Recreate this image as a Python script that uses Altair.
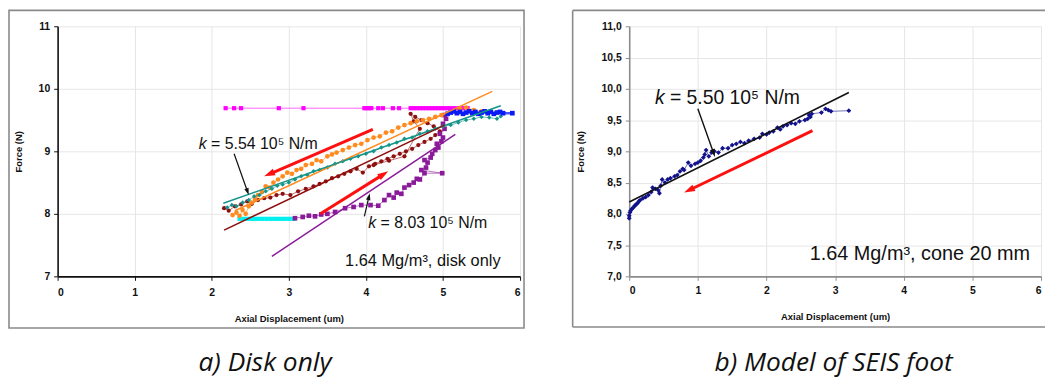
import math
import altair as alt
import pandas as pd

# ---------------- panel a: disk only ----------------
mag_x = [2.18, 2.29, 2.38, 2.87, 3.19, 3.98, 4.01, 4.04, 4.07, 4.16, 4.22, 4.35, 4.43, 4.58, 4.62, 4.66,
         4.70, 4.74, 4.78, 4.82, 4.86, 4.90, 4.94, 4.98, 5.02, 5.06, 5.10, 5.15, 5.20, 5.26, 5.32]
mag_y = [9.69, 9.69, 9.69, 9.69, 9.69, 9.69, 9.69, 9.69, 9.69, 9.69, 9.69, 9.69, 9.69, 9.69, 9.69, 9.69,
         9.69, 9.69, 9.69, 9.69, 9.69, 9.69, 9.69, 9.69, 9.69, 9.69, 9.69, 9.69, 9.69, 9.69, 9.69]

cyan_x = [2.36, 2.41, 2.46, 2.51, 2.56, 2.61, 2.66, 2.71, 2.76, 2.81, 2.86, 2.91, 2.96, 3.01, 3.06]
cyan_y = [7.92, 7.92, 7.92, 7.92, 7.92, 7.92, 7.92, 7.92, 7.92, 7.92, 7.92, 7.92, 7.92, 7.92, 7.92]

blue_x = [5.06, 5.10, 5.14, 5.18, 5.22, 5.26, 5.30, 5.34, 5.38, 5.42, 5.46, 5.50, 5.54, 5.58, 5.62,
          5.66, 5.70, 5.74, 5.78, 5.90]
blue_y = [9.60, 9.62, 9.64, 9.61, 9.63, 9.60, 9.62, 9.64, 9.61, 9.63, 9.60, 9.62, 9.64, 9.61, 9.63,
          9.60, 9.62, 9.63, 9.61, 9.61]

orange_x = [2.27, 2.32, 2.36, 2.40, 2.44, 2.48, 2.52, 2.56, 2.60, 2.65, 2.70, 2.75, 2.80, 2.86, 2.92,
            2.98, 3.04, 3.10, 3.16, 3.22, 3.30, 3.36, 3.42, 3.50, 3.56, 3.62, 3.70, 3.78, 3.86, 3.94,
            4.02, 4.10, 4.18, 4.26, 4.34, 4.42, 4.50, 4.58, 4.66, 4.74, 4.82, 4.90, 4.98, 5.06, 5.14,
            5.22, 5.30, 5.40, 5.50]
orange_y = [7.98, 8.02, 7.97, 8.06, 8.00, 8.12, 8.18, 8.24, 8.30, 8.35, 8.44, 8.42, 8.50, 8.55, 8.60,
            8.66, 8.64, 8.70, 8.72, 8.78, 8.80, 8.86, 8.84, 8.92, 8.95, 8.98, 9.02, 9.06, 9.10, 9.12,
            9.18, 9.22, 9.24, 9.30, 9.32, 9.38, 9.42, 9.45, 9.48, 9.50, 9.52, 9.55, 9.58, 9.60, 9.64,
            9.68, 9.70, 9.66, 9.64]

teal_x = [2.20, 2.26, 2.32, 2.40, 2.48, 2.55, 2.62, 2.70, 2.78, 2.85, 2.92, 3.00, 3.08, 3.16, 3.24,
          3.32, 3.40, 3.50, 3.60, 3.70, 3.80, 3.90, 4.00, 4.10, 4.20, 4.30, 4.40, 4.50, 4.60, 4.70,
          4.80, 4.90, 5.00, 5.10, 5.20, 5.30, 5.40, 5.50, 5.60, 5.70, 5.75]
teal_y = [8.10, 8.14, 8.12, 8.18, 8.22, 8.28, 8.30, 8.36, 8.40, 8.45, 8.47, 8.50, 8.55, 8.60, 8.62,
          8.68, 8.70, 8.74, 8.80, 8.84, 8.88, 8.92, 8.96, 9.00, 9.06, 9.10, 9.14, 9.20, 9.22, 9.28,
          9.32, 9.36, 9.40, 9.42, 9.46, 9.50, 9.52, 9.55, 9.54, 9.52, 9.56]

maroon_x = [2.16, 2.22, 2.30, 2.38, 2.46, 2.52, 2.60, 2.68, 2.76, 2.84, 2.92, 3.02, 3.12, 3.22, 3.32,
            3.40, 3.48, 3.56, 3.64, 3.72, 3.80, 3.88, 3.96, 4.04, 4.12, 4.20, 4.28, 4.36, 4.44, 4.52,
            4.60, 4.68, 4.76, 4.84, 4.90, 4.96, 4.88, 4.80, 4.72, 4.64, 4.58, 4.62, 4.70, 4.50, 4.30, 4.10]
maroon_y = [8.09, 8.05, 8.12, 8.15, 8.20, 8.16, 8.22, 8.25, 8.26, 8.30, 8.32, 8.30, 8.36, 8.40, 8.44,
            8.48, 8.52, 8.57, 8.60, 8.64, 8.68, 8.72, 8.66, 8.76, 8.80, 8.84, 8.88, 8.92, 8.96, 9.00,
            9.04, 9.10, 9.15, 9.20, 9.26, 9.32, 9.40, 9.45, 9.50, 9.55, 9.60, 9.48, 9.36, 8.92, 8.85, 8.78]

purple_x = [3.08, 3.18, 3.26, 3.34, 3.42, 3.50, 3.60, 3.73, 3.84, 3.94, 4.06, 4.16, 4.24, 4.30, 4.36,
            4.40, 4.46, 4.50, 4.56, 4.62, 4.66, 4.70, 4.76, 4.99, 4.72, 4.78, 4.80, 4.76, 4.84, 4.86,
            4.90, 4.94, 4.92, 4.98, 5.00, 4.96, 5.02, 5.00, 5.04, 5.02]
purple_y = [7.93, 7.95, 7.97, 7.96, 7.99, 8.00, 8.03, 8.09, 8.11, 8.14, 8.14, 8.13, 8.22, 8.30, 8.26,
            8.34, 8.32, 8.42, 8.46, 8.50, 8.56, 8.55, 8.65, 8.65, 8.70, 8.74, 8.82, 8.86, 8.90, 8.96,
            9.02, 9.06, 9.12, 9.16, 9.22, 9.28, 9.36, 9.44, 9.52, 9.58]

# fitted lines (x1, y1, x2, y2)
fit_a_x1 = [2.30, 2.15, 2.16, 2.78]
fit_a_y1 = [8.05, 8.17, 7.74, 7.32]
fit_a_x2 = [5.64, 5.75, 5.02, 5.16]
fit_a_y2 = [9.96, 9.73, 9.42, 9.27]
fit_a_col = ["#FF8A1E", "#15958A", "#8E0F0F", "#8A1A9A"]

# red arrows (tail -> head)
red_a_x1 = [4.09, 3.41]
red_a_y1 = [9.35, 8.00]
red_a_x2 = [2.68, 4.29]
red_a_y2 = [8.60, 8.68]

# black pointer arrows (tail -> head)
blk_a_x1 = [2.29, 3.98]
blk_a_y1 = [8.96, 7.96]
blk_a_x2 = [2.48, 4.05]
blk_a_y2 = [8.30, 8.33]

lab_a_x = [1.83, 4.03]
lab_a_y = [9.12, 7.85]
lab_a_rest = ["= 5.54 10\u2075 N/m", "= 8.03 10\u2075 N/m"]
note_a = "1.64 Mg/m\u00b3, disk only"
note_a_x, note_a_y = 3.73, 7.25
caption_a = "a) Disk only"

# ---------------- panel b: model of SEIS foot ----------------
navy_x = [0.00, 0.00, 0.01, 0.02, 0.04, 0.06, 0.08, 0.10, 0.12, 0.14, 0.16, 0.20, 0.24, 0.28, 0.32,
          0.34, 0.38, 0.42, 0.44, 0.46, 0.48, 0.52, 0.56, 0.60, 0.66, 0.70, 0.74, 0.78, 0.80, 0.86,
          0.90, 0.96, 1.00, 1.04, 1.08, 1.10, 1.12, 1.16, 1.20, 1.24, 1.30, 1.36, 1.44, 1.50, 1.56,
          1.62, 1.68, 1.74, 1.82, 1.90, 1.94, 2.00, 2.04, 2.10, 2.16, 2.20, 2.24, 2.30, 2.36, 2.42,
          2.48, 2.56, 2.60, 2.64, 2.62, 2.66, 2.80, 2.86, 2.90, 2.94, 3.20]
navy_y = [7.93, 7.97, 8.02, 8.05, 8.08, 8.10, 8.13, 8.15, 8.17, 8.20, 8.22, 8.25, 8.27, 8.30, 8.35,
          8.42, 8.40, 8.38, 8.33, 8.45, 8.55, 8.50, 8.55, 8.57, 8.60, 8.62, 8.68, 8.72, 8.70, 8.82,
          8.77, 8.80, 8.82, 8.85, 8.90, 8.95, 9.02, 8.92, 8.98, 9.00, 8.98, 9.05, 9.05, 9.10, 9.12,
          9.15, 9.13, 9.17, 9.20, 9.22, 9.28, 9.27, 9.30, 9.32, 9.38, 9.35, 9.40, 9.42, 9.45, 9.44,
          9.48, 9.50, 9.52, 9.55, 9.58, 9.60, 9.62, 9.68, 9.66, 9.64, 9.65]

fit_b_x1, fit_b_y1, fit_b_x2, fit_b_y2 = [0.0], [8.19], [3.20], [9.94]
red_b_x1, red_b_y1, red_b_x2, red_b_y2 = [2.67], [9.33], [0.80], [8.34]
blk_b_x1, blk_b_y1, blk_b_x2, blk_b_y2 = [1.00], [9.68], [1.25], [8.91]
lab_b_x, lab_b_y = [0.376], [9.86]
lab_b_rest = ["= 5.50 10\u2075 N/m"]
note_b = "1.64 Mg/m\u00b3, cone 20 mm"
note_b_x, note_b_y = 2.63, 7.35
caption_b = "b) Model of SEIS foot"

# ---------------- styling / layout ----------------
FONT = "Liberation Sans"
CAP_FONT = "Open Sans"
W_A, H_A = 466, 252
W_B, H_B = 415, 252
HEAD = "M0,0L0.32,1L-0.32,1Z"


def axes(W, H, yvals, ylabel_expr, dom_color, ytx, xty, xlabpad):
    xa = alt.Axis(values=[0, 1, 2, 3, 4, 5, 6], format="d", grid=True, gridColor="#e6e6e6",
                  domainColor=dom_color, domainWidth=1.6, tickColor=dom_color, tickSize=4,
                  labelFont=FONT, labelFontSize=10.5, labelFontWeight="bold", labelColor="#111",
                  labelPadding=xlabpad, title="Axial Displacement (um)", titleFont=FONT,
                  titleFontSize=9.5, titleFontWeight="bold", titleColor="#111", titleY=xty,
                  titleBaseline="middle")
    ya = alt.Axis(values=yvals, grid=True, gridColor="#e6e6e6", labelExpr=ylabel_expr,
                  domainColor=dom_color, domainWidth=1.6, tickColor=dom_color, tickSize=4,
                  labelFont=FONT, labelFontSize=10.5, labelFontWeight="bold", labelColor="#111",
                  labelPadding=4, title="Force (N)", titleFont=FONT, titleFontSize=9.5,
                  titleFontWeight="bold", titleColor="#111", titleX=ytx, titleY=H / 2,
                  titleBaseline="middle")
    xe = alt.X("x:Q", scale=alt.Scale(domain=[0, 6], nice=False, zero=False), axis=xa)
    ye = alt.Y("y:Q", scale=alt.Scale(domain=[7, 11], nice=False, zero=False), axis=ya)
    return xe, ye


def scatter(xs, ys, color, shape, size, xe, ye, lw=0.8):
    df = pd.DataFrame({"x": xs, "y": ys, "i": list(range(len(xs)))})
    base = alt.Chart(df).encode(x=xe, y=ye, order="i:Q")
    return [base.mark_line(color=color, strokeWidth=lw, opacity=0.75),
            base.mark_point(shape=shape, filled=True, color=color, size=size, opacity=1, strokeWidth=0)]


def segs(x1, y1, x2, y2, color, width, xe, ye):
    df = pd.DataFrame({"x": x1, "y": y1, "x2": x2, "y2": y2})
    return alt.Chart(df).mark_rule(color=color, strokeWidth=width).encode(x=xe, y=ye, x2="x2:Q", y2="y2:Q")


def arrows(x1, y1, x2, y2, color, width, head_len, W, H, xe, ye):
    kx, ky = W / 6.0, H / 4.0
    sx2, sy2, ang = [], [], []
    for a, b, c, d in zip(x1, y1, x2, y2):
        dxp, dyp = (c - a) * kx, -(d - b) * ky
        L = math.hypot(dxp, dyp)
        ux, uy = dxp / L, dyp / L
        back = head_len * 0.7
        sx2.append(c - ux * back / kx)
        sy2.append(d + uy * back / ky)
        ang.append(math.degrees(math.atan2(dxp, -dyp)) % 360)
    line = segs(x1, y1, sx2, sy2, color, width, xe, ye)
    hd = pd.DataFrame({"x": x2, "y": y2, "ang": ang})
    head = alt.Chart(hd).mark_point(shape=HEAD, filled=True, color=color, opacity=1, strokeWidth=0,
                                    size=(head_len * 2) ** 2).encode(
        x=xe, y=ye, angle=alt.Angle("ang:Q", scale=None))
    return [line, head]


def labels(xs, ys, rest, size, kdx, xe, ye):
    df = pd.DataFrame({"x": xs, "y": ys, "k": ["k"] * len(xs), "t": rest})
    k = alt.Chart(df).mark_text(font=FONT, fontSize=size, fontStyle="italic", align="left",
                                baseline="middle", color="#111").encode(x=xe, y=ye, text="k:N")
    r = alt.Chart(df).mark_text(font=FONT, fontSize=size, align="left", baseline="middle",
                                dx=kdx, color="#111").encode(x=xe, y=ye, text="t:N")
    return [k, r]


def note(x, y, t, size, xe, ye):
    df = pd.DataFrame({"x": [x], "y": [y], "t": [t]})
    return alt.Chart(df).mark_text(font=FONT, fontSize=size, align="left", baseline="middle",
                                   color="#111").encode(x=xe, y=ye, text="t:N")


def caption(t, cx, cy):
    df = pd.DataFrame({"t": [t]})
    return alt.Chart(df).mark_text(font=CAP_FONT, fontSize=26.5, fontStyle="italic", align="center",
                                   baseline="alphabetic", color="#111").encode(
        x=alt.value(cx), y=alt.value(cy), text="t:N")


one = pd.DataFrame({"a": [0]})
TOP = -16  # border top relative to plot top (both panels share the row origin)

# ---- panel a ----
xa, ya = axes(W_A, H_A, [7, 8, 9, 10, 11], "format(datum.value, 'd')", "#111", -39, 42, 7)
border_a = alt.Chart(one).mark_rect(fill="white", fillOpacity=0, stroke="#8a8a8a", strokeWidth=1.6).encode(
    x=alt.value(-49), x2=alt.value(W_A + 4), y=alt.value(TOP), y2=alt.value(304))
layers_a = [border_a]
layers_a += scatter(mag_x, mag_y, "#FF00FF", "square", 18, xa, ya)
layers_a += scatter(cyan_x, cyan_y, "#00F0F0", "square", 18, xa, ya)
layers_a += scatter(maroon_x, maroon_y, "#8E0F0F", "circle", 18, xa, ya)
layers_a += scatter(purple_x, purple_y, "#8A1A9A", "square", 22, xa, ya)
layers_a += scatter(orange_x, orange_y, "#FF8A1E", "circle", 22, xa, ya)
layers_a += scatter(teal_x, teal_y, "#15958A", "diamond", 20, xa, ya)
layers_a += scatter(blue_x, blue_y, "#0A1AF5", "square", 22, xa, ya, lw=2.5)
for i in range(len(fit_a_x1)):
    layers_a.append(segs([fit_a_x1[i]], [fit_a_y1[i]], [fit_a_x2[i]], [fit_a_y2[i]],
                         fit_a_col[i], 1.5, xa, ya))
layers_a += arrows(red_a_x1, red_a_y1, red_a_x2, red_a_y2, "#FF1010", 3, 11, W_A, H_A, xa, ya)
layers_a += arrows(blk_a_x1, blk_a_y1, blk_a_x2, blk_a_y2, "#111", 1.2, 7, W_A, H_A, xa, ya)
layers_a += labels(lab_a_x, lab_a_y, lab_a_rest, 16, 12.5, xa, ya)
layers_a.append(note(note_a_x, note_a_y, note_a, 16.5, xa, ya))
layers_a.append(caption(caption_a, 209, 347))
panel_a = alt.layer(*layers_a).properties(width=W_A, height=H_A)

# ---- panel b ----
xb, yb = axes(W_B, H_B, [7, 7.5, 8, 8.5, 9, 9.5, 10, 10.5, 11],
              "replace(format(datum.value, '.1f'), '.', ',')", "#8c8c8c", -49, 40, 5)
bb = 303
border_b = [
    alt.Chart(one).mark_rule(color="#8a8a8a", strokeWidth=1.6).encode(
        x=alt.value(-57), x2=alt.value(W_B + 4), y=alt.value(TOP)),
    alt.Chart(one).mark_rule(color="#8a8a8a", strokeWidth=1.6).encode(
        x=alt.value(-57), x2=alt.value(W_B + 4), y=alt.value(bb)),
    alt.Chart(one).mark_rule(color="#8a8a8a", strokeWidth=1.6).encode(
        x=alt.value(-57), y=alt.value(TOP), y2=alt.value(bb)),
]
layers_b = list(border_b)
layers_b += scatter(navy_x, navy_y, "#12128C", "diamond", 24, xb, yb, lw=0.8)
layers_b.append(segs(fit_b_x1, fit_b_y1, fit_b_x2, fit_b_y2, "#111", 1.6, xb, yb))
layers_b += arrows(red_b_x1, red_b_y1, red_b_x2, red_b_y2, "#FF1010", 3, 11, W_B, H_B, xb, yb)
layers_b += arrows(blk_b_x1, blk_b_y1, blk_b_x2, blk_b_y2, "#111", 1.4, 8, W_B, H_B, xb, yb)
layers_b += labels(lab_b_x, lab_b_y, lab_b_rest, 19.5, 15, xb, yb)
layers_b.append(note(note_b_x, note_b_y, note_b, 20, xb, yb))
layers_b.append(caption(caption_b, 206, 347))
panel_b = alt.layer(*layers_b).properties(width=W_B, height=H_B)

chart = alt.hconcat(panel_a, panel_b, spacing=47).properties(padding=0).configure_view(strokeWidth=0)
chart.save("out.html", embed_options={"renderer": "svg", "actions": False})
